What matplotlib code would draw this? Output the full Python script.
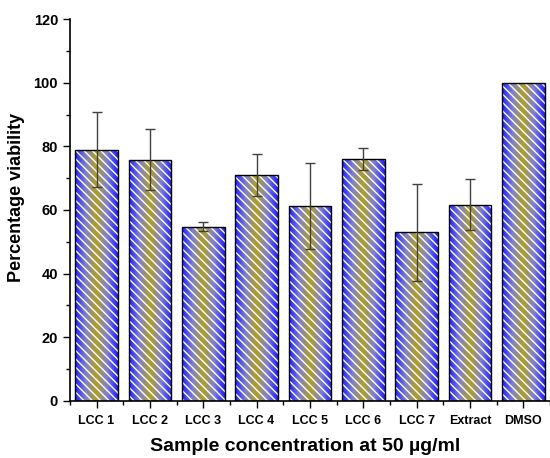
import numpy as np
import matplotlib
matplotlib.use('Agg')
import matplotlib.pyplot as plt
from matplotlib.colors import LinearSegmentedColormap
from matplotlib.ticker import MultipleLocator, FixedLocator

samples = ['LCC 1', 'LCC 2', 'LCC 3', 'LCC 4', 'LCC 5', 'LCC 6', 'LCC 7', 'Extract', 'DMSO']
viability = [79.0, 75.8, 54.8, 71.0, 61.4, 76.0, 53.0, 61.7, 100.0]
errors = [11.8, 9.5, 1.3, 6.5, 13.5, 3.5, 15.2, 8.0, 0.0]


def main():
    plt.rcParams['font.family'] = ['Liberation Sans', 'DejaVu Sans']
    plt.rcParams['font.weight'] = 'bold'
    plt.rcParams['hatch.linewidth'] = 1.0

    fig = plt.figure(figsize=(5.5, 4.58), dpi=100)
    ax = fig.add_axes([0.127, 0.1245, 0.873, 0.834])

    x = np.arange(len(samples))
    width = 0.8

    cmap = LinearSegmentedColormap.from_list(
        'bg', ['#2020ff', '#8080d0', '#b0a020', '#8080d0', '#2020ff'])
    grad = np.linspace(0, 1, 200).reshape(1, -1)

    outlines = ax.bar(x, viability, width, facecolor='none', edgecolor='black',
                      linewidth=1.0, zorder=3)
    for bar in outlines:
        bx, by = bar.get_x(), bar.get_y()
        bw, bh = bar.get_width(), bar.get_height()
        im = ax.imshow(grad, cmap=cmap, extent=[bx, bx + bw, by, by + bh],
                       aspect='auto', zorder=1)
        im.set_clip_path(bar)
    ax.bar(x, viability, width, facecolor='none', edgecolor='white',
           linewidth=0, hatch='\\\\\\\\', zorder=2)

    err_x = [xi for xi, e in zip(x, errors) if e > 0]
    err_y = [v for v, e in zip(viability, errors) if e > 0]
    err_e = [e for e in errors if e > 0]
    ax.errorbar(err_x, err_y, yerr=err_e, fmt='none', ecolor='#404040',
                elinewidth=1.0, capsize=3.5, capthick=1.0, zorder=4)

    ax.set_xlim(-0.5, len(samples) - 0.5)
    ax.set_ylim(0, 120)
    ax.yaxis.set_major_locator(MultipleLocator(20))
    ax.yaxis.set_minor_locator(MultipleLocator(10))
    ax.set_xticks(x)
    ax.set_xticklabels(samples)
    ax.xaxis.set_minor_locator(FixedLocator(np.arange(-0.5, len(samples), 1.0)))

    for s in ['top', 'right']:
        ax.spines[s].set_visible(False)
    for s in ['left', 'bottom']:
        ax.spines[s].set_linewidth(1.2)

    ax.tick_params(axis='both', which='major', direction='out', length=5,
                   width=1.0)
    ax.tick_params(axis='both', which='minor', direction='out', length=3,
                   width=1.0)
    ax.tick_params(axis='y', which='major', labelsize=10.5)
    ax.tick_params(axis='x', which='major', labelsize=9, pad=5)

    ax.set_ylabel('Percentage viability', fontsize=13, fontweight='bold')
    ax.yaxis.set_label_coords(-0.093, 0.533)
    ax.set_xlabel('Sample concentration at 50 \u00b5g/ml', fontsize=14,
                  fontweight='bold')
    ax.xaxis.set_label_coords(0.49, -0.097)

    fig.savefig('out.png', dpi=100)


if __name__ == '__main__':
    main()
